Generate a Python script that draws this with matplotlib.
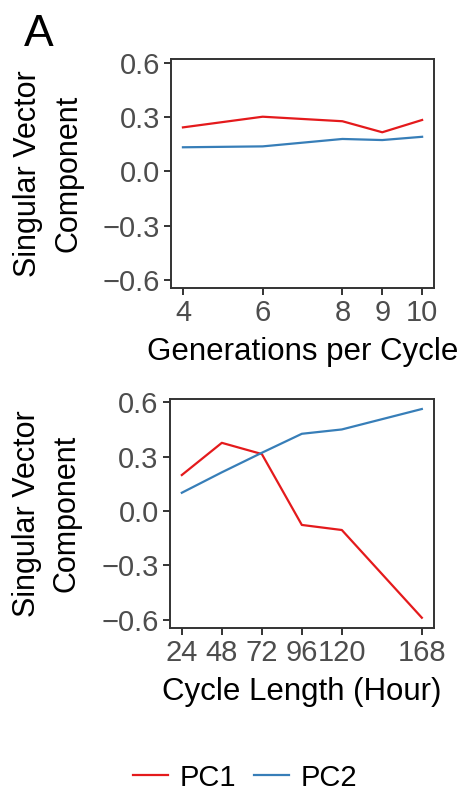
import matplotlib
matplotlib.use("Agg")
import matplotlib.pyplot as plt
from matplotlib.lines import Line2D

plt.rcParams['font.family'] = ['Liberation Sans', 'DejaVu Sans']

# top panel: generations per cycle
gens = [4, 6, 8, 9, 10]
gens_pc1 = [0.243, 0.302, 0.277, 0.216, 0.284]
gens_pc2 = [0.133, 0.138, 0.179, 0.173, 0.191]

# bottom panel: cycle length in hours
hours = [24, 48, 72, 96, 120, 168]
hours_pc1 = [0.199, 0.377, 0.315, -0.077, -0.105, -0.59]
hours_pc2 = [0.101, 0.214, 0.322, 0.427, 0.451, 0.564]

yticks = [-0.6, -0.3, 0.0, 0.3, 0.6]
red = '#E41A1C'
blue = '#377EB8'


def style(ax, xticks, xlabel, xlim):
    ax.set_xlim(*xlim)
    ax.set_ylim(-0.645, 0.62)
    ax.set_xticks(xticks)
    ax.set_xticklabels([str(x) for x in xticks])
    ax.set_yticks(yticks)
    ax.set_yticklabels(['\u22120.6', '\u22120.3', '0.0', '0.3', '0.6'])
    ax.tick_params(axis='both', labelsize=21, labelcolor='#4d4d4d',
                   color='#333333', length=5, width=1.4, pad=3)
    for s in ax.spines.values():
        s.set_color('#333333')
        s.set_linewidth(1.4)
    ax.set_xlabel(xlabel, fontsize=22.5, labelpad=7)
    ax.set_ylabel('Singular Vector\nComponent', fontsize=22, labelpad=14,
                  linespacing=1.45)


fig = plt.figure(figsize=(4.64, 8), dpi=100)

ax1 = fig.add_axes([0.3685, 0.64, 0.567, 0.286])
ax1.plot(gens, gens_pc1, color=red, lw=1.6)
ax1.plot(gens, gens_pc2, color=blue, lw=1.6)
style(ax1, gens, 'Generations per Cycle', (3.7, 10.3))

ax2 = fig.add_axes([0.366, 0.2154, 0.569, 0.286])
ax2.plot(hours, hours_pc1, color=red, lw=1.6)
ax2.plot(hours, hours_pc2, color=blue, lw=1.6)
style(ax2, hours, 'Cycle Length (Hour)', (16.8, 175.2))

fig.text(0.052, 0.943, 'A', fontsize=32)

handles = [Line2D([], [], color=red, lw=1.6), Line2D([], [], color=blue, lw=1.6)]
fig.legend(handles, ['PC1', 'PC2'], loc='center', bbox_to_anchor=(0.528, 0.028),
           ncol=2, frameon=False, fontsize=21, handlelength=1.2,
           handletextpad=0.4, columnspacing=0.6)

fig.savefig('out.png', dpi=100)
